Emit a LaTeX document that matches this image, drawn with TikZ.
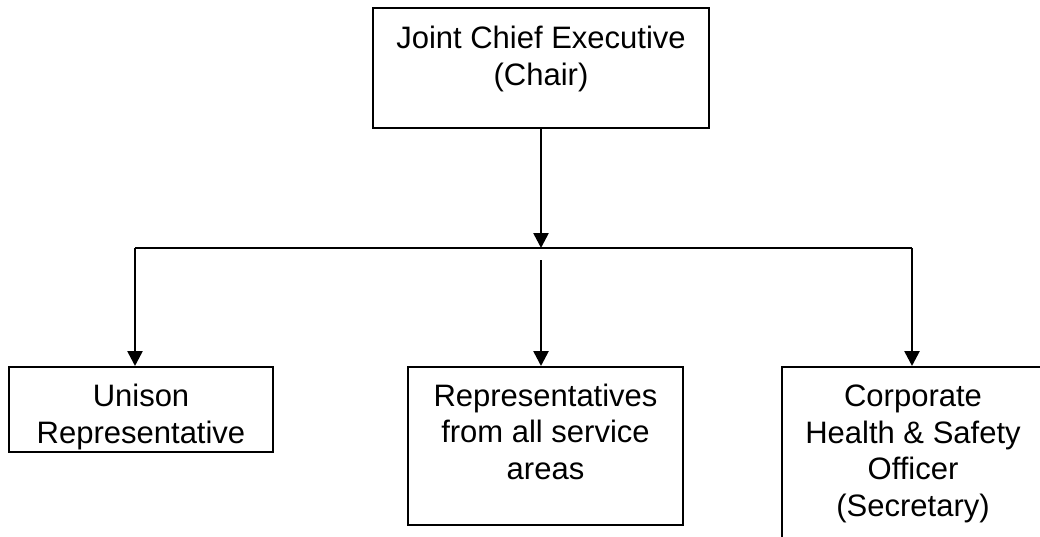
\documentclass[tikz,border=0pt]{standalone}
\usepackage{fontspec}
\setmainfont{Liberation Sans}
\usetikzlibrary{arrows.meta}
\begin{document}
\begin{tikzpicture}[x=1pt,y=-1pt,
  box/.style={draw=black,line width=2pt,rectangle,inner sep=0pt},
  lbl/.style={align=center,inner sep=0pt,anchor=base,font=\fontsize{31}{36.5}\selectfont},
  conn/.style={line width=2pt},
  arr/.style={line width=2.6pt,-{Triangle[width=15pt,length=15pt]}}]
\useasboundingbox (0,0) rectangle (1040,536);
\clip (0,0) rectangle (1040,536);
\fill[white] (0,0) rectangle (1040,536);
% boxes
\node[box,minimum width=336pt,minimum height=120pt] (top) at (541,68) {};
\node[box,minimum width=264pt,minimum height=85pt] (left) at (141,409.5) {};
\node[box,minimum width=275pt,minimum height=158pt] (mid) at (545.5,446) {};
\node[box,minimum width=261pt,minimum height=198pt] (right) at (912.5,466) {};
% texts (anchored at last line's baseline)
\node[lbl] (ttop) at (541,85) {Joint Chief Executive\\(Chair)};
\node[lbl] (tleft) at (141,443) {Unison\\Representative};
\node[lbl] (tmid) at (545.5,479) {Representatives\\from all service\\areas};
\node[lbl] (tright) at (913,516) {Corporate\\Health \& Safety\\Officer\\(Secretary)};
% connectors
\coordinate (j) at (541,248);
\coordinate (hl) at (135,248);
\coordinate (hr) at (912,248);
\coordinate (ms) at (541,260);
\draw[arr] (top.south) -- (j);
\draw[conn] (hl) -- (hr);
\draw[arr] (hl) -- (hl |- left.north);
\draw[arr] (hr) -- (hr |- right.north);
\draw[arr] (ms) -- (ms |- mid.north);
\end{tikzpicture}
\end{document}
